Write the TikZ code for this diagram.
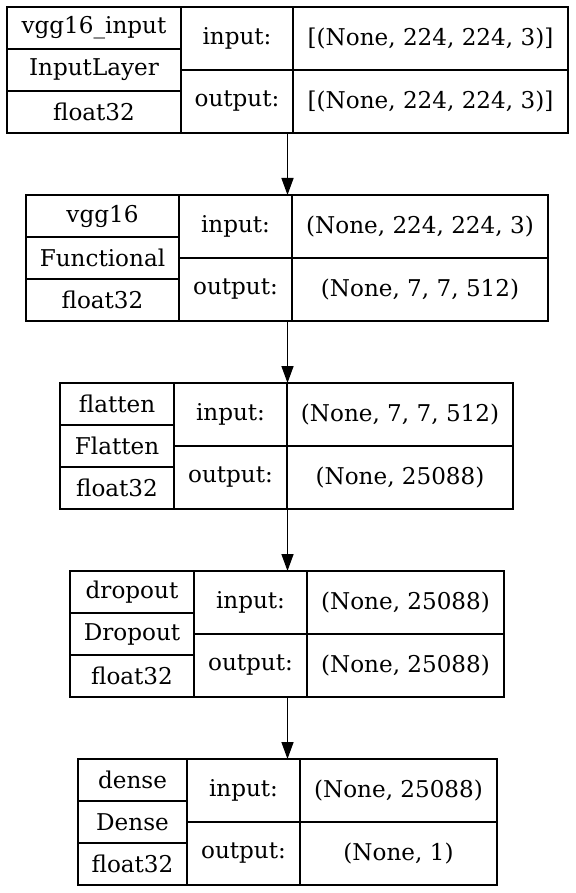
\documentclass[tikz,border=0pt]{standalone}
\usepackage{fontspec}
\setmainfont{DejaVu Serif}
\usetikzlibrary{arrows.meta}
\begin{document}
\begin{tikzpicture}[x=1pt,y=-1pt,
  cell/.style={draw, line width=1.5pt, inner sep=0pt, outer sep=0pt, anchor=north west, font=\fontsize{23.1}{27}\selectfont},
  box/.style={inner sep=0pt, outer sep=0pt, anchor=north west},
  flow/.style={line width=1.5pt, -{Triangle[length=17pt,width=12pt]}}]
\useasboundingbox (0,0) rectangle (575,893);
% layer 1
\node[box, minimum width=561, minimum height=126] (L1) at (7,7) {};
\node[cell, minimum width=174, minimum height=42] (L1n) at (7,7) {vgg16\_input};
\node[cell, minimum width=174, minimum height=42] (L1t) at (7,49) {InputLayer};
\node[cell, minimum width=174, minimum height=42] (L1d) at (7,91) {float32};
\node[cell, minimum width=112, minimum height=63] (L1il) at (181,7) {input:};
\node[cell, minimum width=112, minimum height=63] (L1ol) at (181,70) {output:};
\node[cell, minimum width=275, minimum height=63] (L1iv) at (293,7) {[(None, 224, 224, 3)]};
\node[cell, minimum width=275, minimum height=63] (L1ov) at (293,70) {[(None, 224, 224, 3)]};
% layer 2
\node[box, minimum width=522, minimum height=126] (L2) at (26,195) {};
\node[cell, minimum width=153, minimum height=42] (L2n) at (26,195) {vgg16};
\node[cell, minimum width=153, minimum height=42] (L2t) at (26,237) {Functional};
\node[cell, minimum width=153, minimum height=42] (L2d) at (26,279) {float32};
\node[cell, minimum width=113, minimum height=63] (L2il) at (179,195) {input:};
\node[cell, minimum width=113, minimum height=63] (L2ol) at (179,258) {output:};
\node[cell, minimum width=256, minimum height=63] (L2iv) at (292,195) {(None, 224, 224, 3)};
\node[cell, minimum width=256, minimum height=63] (L2ov) at (292,258) {(None, 7, 7, 512)};
% layer 3
\node[box, minimum width=453, minimum height=126] (L3) at (60,383) {};
\node[cell, minimum width=114, minimum height=42] (L3n) at (60,383) {flatten};
\node[cell, minimum width=114, minimum height=42] (L3t) at (60,425) {Flatten};
\node[cell, minimum width=114, minimum height=42] (L3d) at (60,467) {float32};
\node[cell, minimum width=113, minimum height=63] (L3il) at (174,383) {input:};
\node[cell, minimum width=113, minimum height=63] (L3ol) at (174,446) {output:};
\node[cell, minimum width=226, minimum height=63] (L3iv) at (287,383) {(None, 7, 7, 512)};
\node[cell, minimum width=226, minimum height=63] (L3ov) at (287,446) {(None, 25088)};
% layer 4
\node[box, minimum width=434, minimum height=126] (L4) at (70,571) {};
\node[cell, minimum width=124, minimum height=42] (L4n) at (70,571) {dropout};
\node[cell, minimum width=124, minimum height=42] (L4t) at (70,613) {Dropout};
\node[cell, minimum width=124, minimum height=42] (L4d) at (70,655) {float32};
\node[cell, minimum width=113, minimum height=63] (L4il) at (194,571) {input:};
\node[cell, minimum width=113, minimum height=63] (L4ol) at (194,634) {output:};
\node[cell, minimum width=197, minimum height=63] (L4iv) at (307,571) {(None, 25088)};
\node[cell, minimum width=197, minimum height=63] (L4ov) at (307,634) {(None, 25088)};
% layer 5
\node[box, minimum width=419, minimum height=126] (L5) at (78,759) {};
\node[cell, minimum width=109, minimum height=42] (L5n) at (78,759) {dense};
\node[cell, minimum width=109, minimum height=42] (L5t) at (78,801) {Dense};
\node[cell, minimum width=109, minimum height=42] (L5d) at (78,843) {float32};
\node[cell, minimum width=113, minimum height=63] (L5il) at (187,759) {input:};
\node[cell, minimum width=113, minimum height=63] (L5ol) at (187,822) {output:};
\node[cell, minimum width=197, minimum height=63] (L5iv) at (300,759) {(None, 25088)};
\node[cell, minimum width=197, minimum height=63] (L5ov) at (300,822) {(None, 1)};
% connectors
\draw[flow] (L1.south) -- (L1.south |- L2.north);
\draw[flow] (L1.south |- L2.south) -- (L1.south |- L3.north);
\draw[flow] (L1.south |- L3.south) -- (L1.south |- L4.north);
\draw[flow] (L1.south |- L4.south) -- (L1.south |- L5.north);
\end{tikzpicture}
\end{document}
